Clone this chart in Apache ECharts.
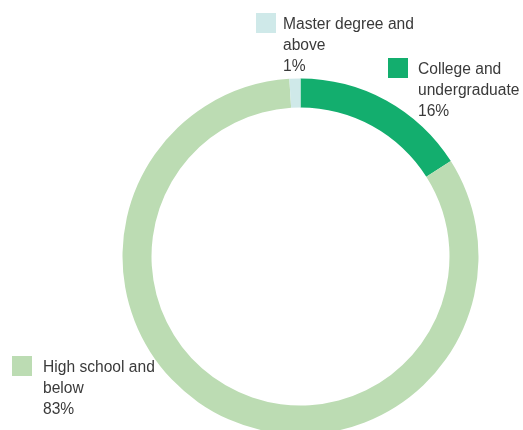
<!DOCTYPE html>
<html><head><meta charset="utf-8">
<script src="https://cdn.jsdelivr.net/npm/echarts@6/dist/echarts.min.js"></script>
<style>html,body{margin:0;padding:0;background:#fff}#c{width:523px;height:430px}</style>
</head><body><div id="c"></div>
<script>
const categories = ['College and\nundergraduate', 'High school and\nbelow', 'Master degree and\nabove'];
const values = [16, 83, 1];
const colors = ['#13ae6e', '#bcdcb3', '#cfe9e9'];
// layout: [icon left, icon top, gap between icon and text]
const legendLayout = [[388, 58, 5], [12, 356, 6], [256, 13, 2]];

const LH = 21;
const FS = 15.6;
const chart = echarts.init(document.getElementById('c'));
const legends = categories.map((name, i) => {
  const [lx, ly, gap] = legendLayout[i];
  const textLines = name.split('\n').length + 1;
  // blank spacer line so the first text line sits beside the icon (slightly lower)
  const blank = (textLines - 1) * LH + 4;
  const blockH = blank + textLines * LH;
  return {
    data: [name],
    left: lx,
    top: ly + 10 - blockH / 2,
    padding: 0,
    icon: 'rect',
    itemWidth: 20,
    itemHeight: 20,
    selectedMode: false,
    formatter: n => {
      const lines = (n + '\n' + values[categories.indexOf(n)] + '%').split('\n');
      return '{b|}\n' + lines.map(l => '{s|}{t|' + l + '}').join('\n');
    },
    textStyle: {
      fontFamily: 'Liberation Sans',
      fontSize: FS,
      color: '#3a3a3a',
      lineHeight: LH,
      rich: {
        b: {lineHeight: blank, height: blank, fontSize: 1},
        s: {width: gap, lineHeight: LH},
        t: {fontFamily: 'Liberation Sans', fontSize: FS, color: '#3a3a3a', lineHeight: LH}
      }
    }
  };
});
chart.setOption({
  animation: false,
  color: colors,
  legend: legends,
  series: [{
    type: 'pie',
    center: [300.5, 256.5],
    radius: [149, 178],
    startAngle: 90,
    clockwise: true,
    label: {show: false},
    labelLine: {show: false},
    emphasis: {disabled: true},
    itemStyle: {borderWidth: 0},
    data: categories.map((n, i) => ({name: n, value: values[i]}))
  }]
});
</script></body></html>
